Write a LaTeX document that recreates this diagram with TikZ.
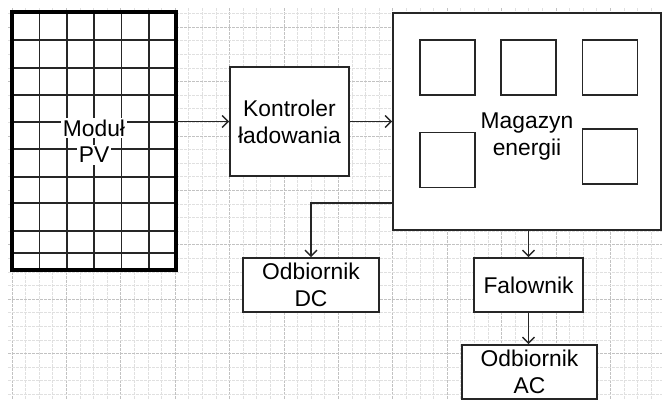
\documentclass[tikz,border=0pt]{standalone}
\usepackage{fontspec}
\setmainfont{Liberation Sans}
\usetikzlibrary{arrows.meta}

\begin{document}
\begin{tikzpicture}[
  x=1pt,y=-1pt,
  font=\fontsize{22.8}{27}\selectfont,
  >={Straight Barb[length=6pt,width=12pt]},
  gridline/.style={line width=.7pt,dash pattern=on 2.5pt off 1.5pt},
  box/.style={draw=black!85,line width=1.6pt,fill=white,align=center,inner sep=0pt},
  cell/.style={draw=black!85,line width=1.6pt,minimum width=55pt,minimum height=55pt,inner sep=0pt},
  pvline/.style={black!85,line width=1.6pt},
  lbl/.style={fill=white,inner sep=2pt},
  arrow/.style={->,line width=1.4pt,black!85}
]
  \useasboundingbox (0,0) rectangle (662,400);
  % background grid
  \foreach \i in {0,...,47}{
    \pgfmathtruncatemacro\gc{mod(\i,4)==0 ? 24 : 12}
    \draw[gridline,black!\gc] (12+13.6*\i,8) -- (12+13.6*\i,400);
  }
  \foreach \j in {1,...,29}{
    \pgfmathtruncatemacro\gc{mod(\j,4)==2 ? 24 : 12}
    \draw[gridline,black!\gc] (8,13.6*\j) -- (662,13.6*\j);
  }

  % PV module
  \node[fill=white,minimum width=164pt,minimum height=258pt,inner sep=0pt] (pv) at (94,141) {};
  \foreach \x in {39.3,66.7,94,121.3,148.7}
    \draw[pvline] (\x,12) -- (\x,270);
  \foreach \y in {40,68,95,122,149,177,203,231,253}
    \draw[pvline] (12,\y) -- (176,\y);
  \draw[line width=3.5pt] (pv.north west) rectangle (pv.south east);
  \node[lbl] (pvtop) at (94,128) {Moduł};
  \node[lbl] (pvbot) at (94,155) {PV};

  \node[box,minimum width=119pt,minimum height=109pt] (kontroler) at (289.5,121.5) {Kontroler\\ładowania};

  % energy storage
  \node[box,minimum width=268pt,minimum height=217pt] (magazyn) at (527,121.5) {};
  \node[cell] (c1) at (447.5,67.5) {};
  \node[cell] (c2) at (528.5,67.5) {};
  \node[cell] (c3) at (610,67.5) {};
  \node[cell] (c4) at (447.5,160) {};
  \node[cell] (c5) at (610,156.5) {};
  \node[align=center] (magtxt) at (527,136.5) {Magazyn\\energii};

  \node[box,minimum width=136pt,minimum height=54pt] (dc) at (311,285) {Odbiornik\\DC};
  \node[box,minimum width=109pt,minimum height=54pt] (falownik) at (528.5,285) {Falownik};
  \node[box,minimum width=135pt,minimum height=54pt] (ac) at (529.5,372) {Odbiornik\\AC};

  \coordinate (dcout) at (393,203);
  \draw[arrow] (pv.east |- kontroler.west) -- (kontroler.west);
  \draw[arrow] (kontroler.east) -- (kontroler.east -| magazyn.west);
  \draw[arrow] (dcout) -| (dc.north);
  \draw[arrow] (falownik.north |- magazyn.south) -- (falownik.north);
  \draw[arrow] (falownik.south) -- (falownik.south |- ac.north);
\end{tikzpicture}
\end{document}
